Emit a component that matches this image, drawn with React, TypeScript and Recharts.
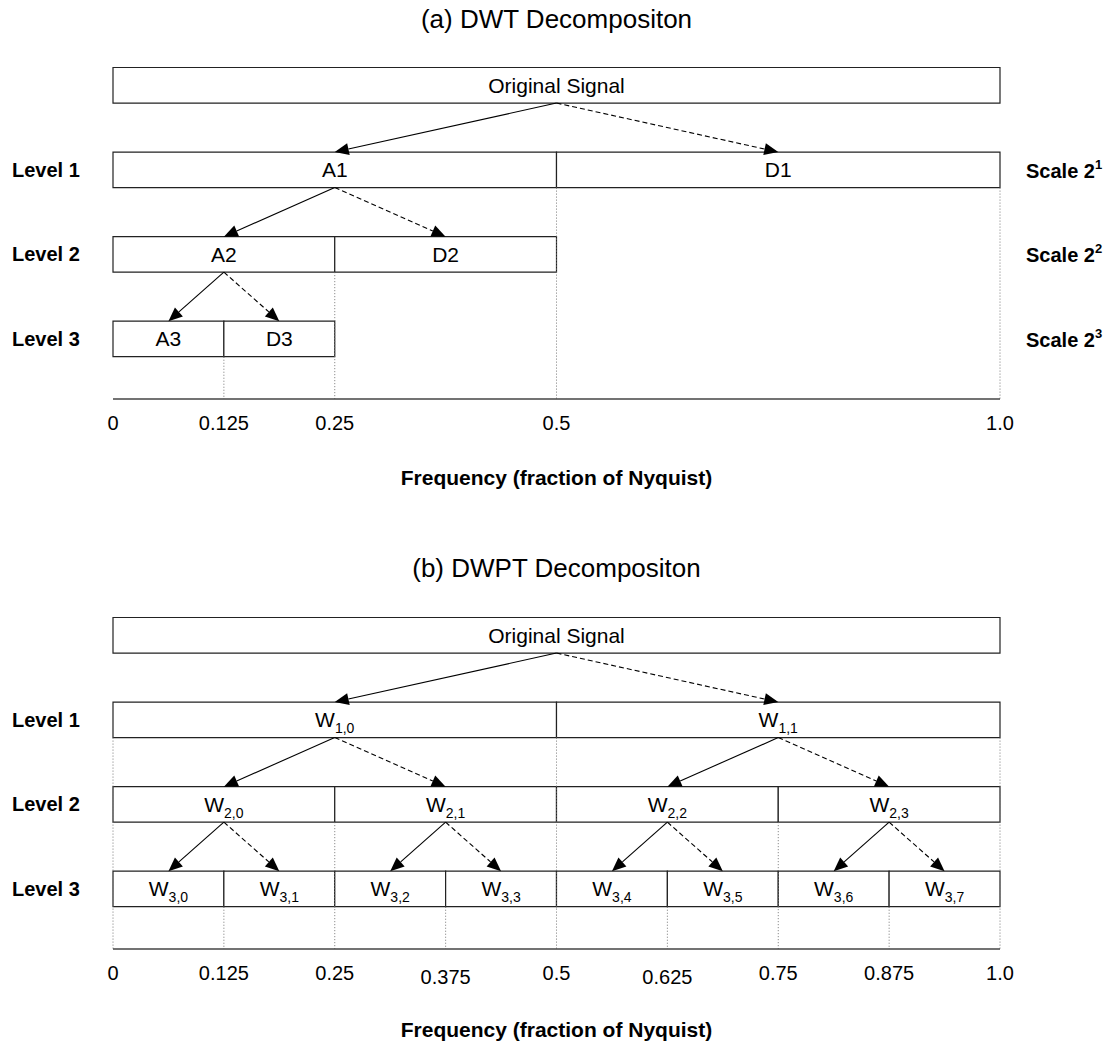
import {
  ComposedChart,
  XAxis,
  YAxis,
  ReferenceArea,
  ReferenceLine,
  Scatter,
} from 'recharts';

const FONT = '"Liberation Sans", Arial, Helvetica, sans-serif';

// row index 0 = original signal, 1..3 = decomposition levels
const LEVEL_ROWS = [1, 2, 3];
const LEVEL_LABELS = ['Level 1', 'Level 2', 'Level 3'];
const SCALE_EXPONENTS = ['1', '2', '3'];

const DWT_TICKS = [0, 0.125, 0.25, 0.5, 1];
const DWT_TICK_LABELS = ['0', '0.125', '0.25', '0.5', '1.0'];
const DWPT_TICKS = [0, 0.125, 0.25, 0.375, 0.5, 0.625, 0.75, 0.875, 1];
const DWPT_TICK_LABELS = ['0', '0.125', '0.25', '0.375', '0.5', '0.625', '0.75', '0.875', '1.0'];
const LOWERED_TICKS = [0.375, 0.625];

const DWT_BANDS = [
  { level: 0, from: 0, to: 1, name: 'Original Signal', sub: '' },
  { level: 1, from: 0, to: 0.5, name: 'A1', sub: '' },
  { level: 1, from: 0.5, to: 1, name: 'D1', sub: '' },
  { level: 2, from: 0, to: 0.25, name: 'A2', sub: '' },
  { level: 2, from: 0.25, to: 0.5, name: 'D2', sub: '' },
  { level: 3, from: 0, to: 0.125, name: 'A3', sub: '' },
  { level: 3, from: 0.125, to: 0.25, name: 'D3', sub: '' },
];

const DWPT_BANDS = [
  { level: 0, from: 0, to: 1, name: 'Original Signal', sub: '' },
  { level: 1, from: 0, to: 0.5, name: 'W', sub: '1,0' },
  { level: 1, from: 0.5, to: 1, name: 'W', sub: '1,1' },
  { level: 2, from: 0, to: 0.25, name: 'W', sub: '2,0' },
  { level: 2, from: 0.25, to: 0.5, name: 'W', sub: '2,1' },
  { level: 2, from: 0.5, to: 0.75, name: 'W', sub: '2,2' },
  { level: 2, from: 0.75, to: 1, name: 'W', sub: '2,3' },
  { level: 3, from: 0, to: 0.125, name: 'W', sub: '3,0' },
  { level: 3, from: 0.125, to: 0.25, name: 'W', sub: '3,1' },
  { level: 3, from: 0.25, to: 0.375, name: 'W', sub: '3,2' },
  { level: 3, from: 0.375, to: 0.5, name: 'W', sub: '3,3' },
  { level: 3, from: 0.5, to: 0.625, name: 'W', sub: '3,4' },
  { level: 3, from: 0.625, to: 0.75, name: 'W', sub: '3,5' },
  { level: 3, from: 0.75, to: 0.875, name: 'W', sub: '3,6' },
  { level: 3, from: 0.875, to: 1, name: 'W', sub: '3,7' },
];

// parent centre (row `level`) -> child centre (row level + 1); dashed = detail branch
const DWT_ARROWS = [
  { level: 0, from: 0.5, to: 0.25, dashed: false },
  { level: 0, from: 0.5, to: 0.75, dashed: true },
  { level: 1, from: 0.25, to: 0.125, dashed: false },
  { level: 1, from: 0.25, to: 0.375, dashed: true },
  { level: 2, from: 0.125, to: 0.0625, dashed: false },
  { level: 2, from: 0.125, to: 0.1875, dashed: true },
];

const DWPT_ARROWS = [
  { level: 0, from: 0.5, to: 0.25, dashed: false },
  { level: 0, from: 0.5, to: 0.75, dashed: true },
  { level: 1, from: 0.25, to: 0.125, dashed: false },
  { level: 1, from: 0.25, to: 0.375, dashed: true },
  { level: 1, from: 0.75, to: 0.625, dashed: false },
  { level: 1, from: 0.75, to: 0.875, dashed: true },
  { level: 2, from: 0.125, to: 0.0625, dashed: false },
  { level: 2, from: 0.125, to: 0.1875, dashed: true },
  { level: 2, from: 0.375, to: 0.3125, dashed: false },
  { level: 2, from: 0.375, to: 0.4375, dashed: true },
  { level: 2, from: 0.625, to: 0.5625, dashed: false },
  { level: 2, from: 0.625, to: 0.6875, dashed: true },
  { level: 2, from: 0.875, to: 0.8125, dashed: false },
  { level: 2, from: 0.875, to: 0.9375, dashed: true },
];

// dotted band edges, running from the bottom of row `level` down to the axis
const DWT_GUIDES = [
  { x: 0.5, level: 1 },
  { x: 1, level: 1 },
  { x: 0.25, level: 2 },
  { x: 0.125, level: 3 },
];

const DWPT_GUIDES = [
  { x: 0, level: 1 },
  { x: 0.5, level: 1 },
  { x: 1, level: 1 },
  { x: 0.25, level: 2 },
  { x: 0.75, level: 2 },
  { x: 0.125, level: 3 },
  { x: 0.375, level: 3 },
  { x: 0.625, level: 3 },
  { x: 0.875, level: 3 },
];

const Y_TOP = -0.5;
const Y_AXIS = 3.71;
const HALF = 0.21;

function arrowShape(dashed: boolean) {
  return (p: any) => {
    const x1 = Number(p.x1), y1 = Number(p.y1), x2 = Number(p.x2), y2 = Number(p.y2);
    const len = Math.hypot(x2 - x1, y2 - y1) || 1;
    const ux = (x2 - x1) / len, uy = (y2 - y1) / len;
    const head = 14, w = 6;
    const bx = x2 - ux * head, by = y2 - uy * head;
    return (
      <g>
        <line x1={x1} y1={y1} x2={bx} y2={by} stroke="#000" strokeWidth={1.1}
          strokeDasharray={dashed ? '5 3' : undefined} />
        <polygon points={`${x2},${y2} ${bx - uy * w},${by + ux * w} ${bx + uy * w},${by - ux * w}`} fill="#000" />
      </g>
    );
  };
}

function BandLabel(p: any) {
  const { cx, cy, payload } = p;
  return (
    <text x={cx} y={cy} dy={7.5} textAnchor="middle" fontSize={21} fontFamily={FONT} fill="#000">
      {payload.name}
      {payload.sub ? <tspan fontSize={14} dy={6}>{payload.sub}</tspan> : null}
    </text>
  );
}

function LevelTick(p: any) {
  const i = LEVEL_ROWS.indexOf(p.payload.value);
  return (
    <text x={p.x - 101} y={p.y} dy={7} textAnchor="start" fontSize={20} fontWeight="bold" fontFamily={FONT} fill="#000">
      {LEVEL_LABELS[i]}
    </text>
  );
}

function ScaleTick(p: any) {
  const i = LEVEL_ROWS.indexOf(p.payload.value);
  return (
    <text x={p.x + 26} y={p.y} dy={8} textAnchor="start" fontSize={20} fontWeight="bold" fontFamily={FONT} fill="#000">
      Scale 2<tspan fontSize={13} dy={-9}>{SCALE_EXPONENTS[i]}</tspan>
    </text>
  );
}

function freqTick(ticks: number[], labels: string[]) {
  return (p: any) => {
    const v = p.payload.value;
    const extra = LOWERED_TICKS.includes(v) ? 3.5 : 0;
    return (
      <text x={p.x} y={p.y} dy={31 + extra} textAnchor="middle" fontSize={20} fontFamily={FONT} fill="#000">
        {labels[ticks.indexOf(v)]}
      </text>
    );
  };
}

interface PanelProps {
  bands: typeof DWT_BANDS;
  arrows: typeof DWT_ARROWS;
  guides: typeof DWT_GUIDES;
  ticks: number[];
  tickLabels: string[];
  showScale: boolean;
  height: number;
}

function Panel({ bands, arrows, guides, ticks, tickLabels, showScale, height }: PanelProps) {
  const points = bands.map((b) => ({ x: (b.from + b.to) / 2, y: b.level, name: b.name, sub: b.sub }));
  return (
    <ComposedChart
      width={1115}
      height={height}
      margin={{ top: 43, right: showScale ? 0 : 115, bottom: height - 43 - 356 - 30, left: 0 }}
    >
      <XAxis
        type="number"
        dataKey="x"
        domain={[0, 1]}
        ticks={ticks}
        interval={0}
        allowDataOverflow
        tickLine={false}
        tickSize={0}
        tickMargin={0}
        height={30}
        axisLine={{ stroke: '#444', strokeWidth: 1.5 }}
        tick={freqTick(ticks, tickLabels)}
      />
      <YAxis
        type="number"
        dataKey="y"
        domain={[Y_TOP, Y_AXIS]}
        reversed
        allowDataOverflow
        ticks={LEVEL_ROWS}
        interval={0}
        width={113}
        axisLine={false}
        tickLine={false}
        tickSize={0}
        tickMargin={0}
        tick={<LevelTick />}
      />
      {showScale && (
        <YAxis
          yAxisId="scale"
          orientation="right"
          type="number"
          dataKey="y"
          domain={[Y_TOP, Y_AXIS]}
          reversed
          allowDataOverflow
          ticks={LEVEL_ROWS}
          interval={0}
          width={115}
          axisLine={false}
          tickLine={false}
          tickSize={0}
          tickMargin={0}
          tick={<ScaleTick />}
        />
      )}
      {guides.map((g, i) => (
        <ReferenceLine
          key={`g${i}`}
          segment={[{ x: g.x, y: g.level + HALF }, { x: g.x, y: Y_AXIS }]}
          stroke="#777"
          strokeWidth={1}
          strokeDasharray="1 2"
          ifOverflow="visible"
        />
      ))}
      {bands.map((b, i) => (
        <ReferenceArea
          key={`b${i}`}
          x1={b.from}
          x2={b.to}
          y1={b.level - HALF}
          y2={b.level + HALF}
          fill="#fff"
          fillOpacity={1}
          stroke="#222"
          strokeWidth={1.2}
          ifOverflow="visible"
        />
      ))}
      {arrows.map((a, i) => (
        <ReferenceLine
          key={`a${i}`}
          segment={[{ x: a.from, y: a.level + HALF }, { x: a.to, y: a.level + 1 - HALF }]}
          shape={arrowShape(a.dashed)}
          ifOverflow="visible"
        />
      ))}
      <Scatter data={points} shape={BandLabel} isAnimationActive={false} />
    </ComposedChart>
  );
}

const titleStyle: React.CSSProperties = {
  position: 'absolute',
  left: 113,
  width: 887,
  textAlign: 'center',
  fontFamily: FONT,
  lineHeight: '30px',
  color: '#000',
};

export default function App() {
  return (
    <div style={{ position: 'absolute', left: 0, top: 0, width: 1115, height: 1044, overflow: 'hidden', background: '#fff' }}>
      <div style={{ ...titleStyle, top: 4, fontSize: 26 }}>(a) DWT Decompositon</div>
      <div style={{ position: 'absolute', left: 0, top: 0 }}>
        <Panel bands={DWT_BANDS} arrows={DWT_ARROWS} guides={DWT_GUIDES} ticks={DWT_TICKS}
          tickLabels={DWT_TICK_LABELS} showScale height={549} />
      </div>
      <div style={{ ...titleStyle, top: 463, fontSize: 21, fontWeight: 'bold' }}>Frequency (fraction of Nyquist)</div>

      <div style={{ ...titleStyle, top: 553, fontSize: 26 }}>(b) DWPT Decompositon</div>
      <div style={{ position: 'absolute', left: 0, top: 550 }}>
        <Panel bands={DWPT_BANDS} arrows={DWPT_ARROWS} guides={DWPT_GUIDES} ticks={DWPT_TICKS}
          tickLabels={DWPT_TICK_LABELS} showScale={false} height={494} />
      </div>
      <div style={{ ...titleStyle, top: 1015, fontSize: 21, fontWeight: 'bold' }}>Frequency (fraction of Nyquist)</div>
    </div>
  );
}
